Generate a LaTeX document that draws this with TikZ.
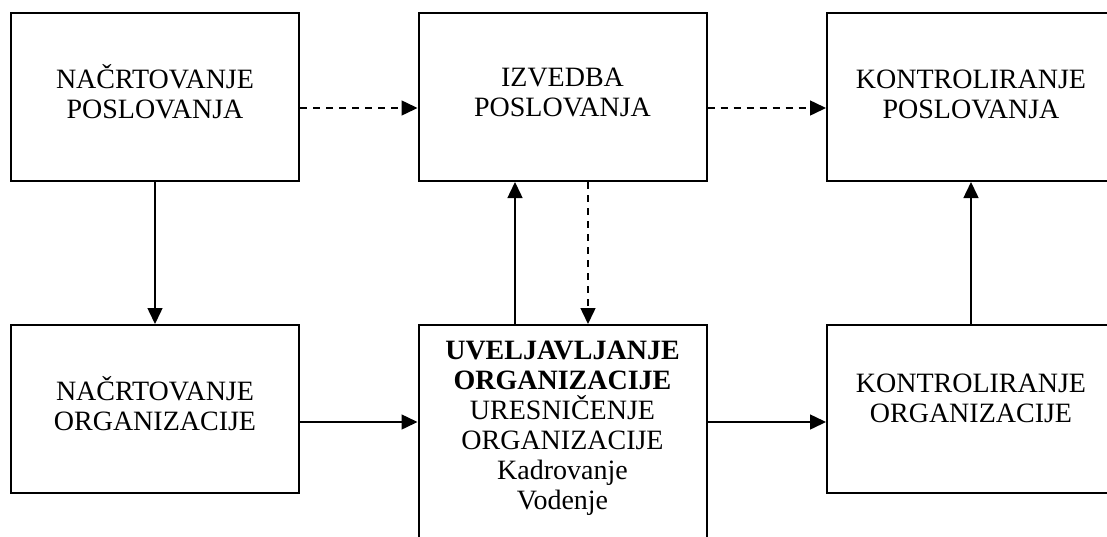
\documentclass[tikz,border=0pt]{standalone}
\usepackage{fontspec}
\setmainfont{Liberation Serif}
\usetikzlibrary{arrows.meta}
\begin{document}
\begin{tikzpicture}[x=0.5pt,y=-0.5pt,
  box/.style={draw=black,line width=1pt,minimum width=144pt,inner sep=0pt},
  lbl/.style={align=center,font=\fontsize{14pt}{15pt}\selectfont,inner sep=0pt},
  arr/.style={line width=0.75pt,-{Triangle[length=8pt,width=7.5pt]}},
  dsh/.style={arr,dash pattern=on 3.5pt off 3pt}]
\useasboundingbox (0,0) rectangle (1107,536);
\clip (0,0) rectangle (1107,536);
% boxes
\node[box,minimum height=84pt] (A) at (155,97) {};
\node[box,minimum height=84pt] (B) at (562.5,97) {};
\node[box,minimum height=84pt] (C) at (971,97) {};
\node[box,minimum height=84pt] (D) at (155,409) {};
\node[box,minimum height=120pt] (E) at (562.5,445) {};
\node[box,minimum height=84pt] (F) at (971,409) {};
% texts
\node[lbl] (tA) at (155,92) {NAČRTOVANJE\\POSLOVANJA};
\node[lbl] (tB) at (562.5,92) {IZVEDBA\\POSLOVANJA};
\node[lbl] (tC) at (971,94) {KONTROLIRANJE\\POSLOVANJA};
\node[lbl] (tD) at (155,404) {NAČRTOVANJE\\ORGANIZACIJE};
\node[lbl] (tE) at (562.5,428) {\textbf{UVELJAVLJANJE}\\\textbf{ORGANIZACIJE}\\URESNIČENJE\\ORGANIZACIJE\\Kadrovanje\\Vodenje};
\node[lbl] (tF) at (971,398) {KONTROLIRANJE\\ORGANIZACIJE};
% connectors
\draw[dsh] ([yshift=-5.5pt]A.east) -- ([yshift=-5.5pt]A.east -| B.west);
\draw[dsh] ([yshift=-5.5pt]B.east) -- ([yshift=-5.5pt]B.east -| C.west);
\draw[arr] (A.south) -- (D.north);
\draw[arr] ([xshift=-23.75pt]E.north) -- ([xshift=-23.75pt]E.north |- B.south);
\draw[dsh] ([xshift=12.75pt]B.south) -- ([xshift=12.75pt]B.south |- E.north);
\draw[arr] (F.north) -- (C.south);
\draw[arr] ([yshift=-6.5pt]D.east) -- ([yshift=-6.5pt]D.east -| E.west);
\draw[arr] ([yshift=-6.5pt]F.west -| E.east) -- ([yshift=-6.5pt]F.west);
\end{tikzpicture}
\end{document}
